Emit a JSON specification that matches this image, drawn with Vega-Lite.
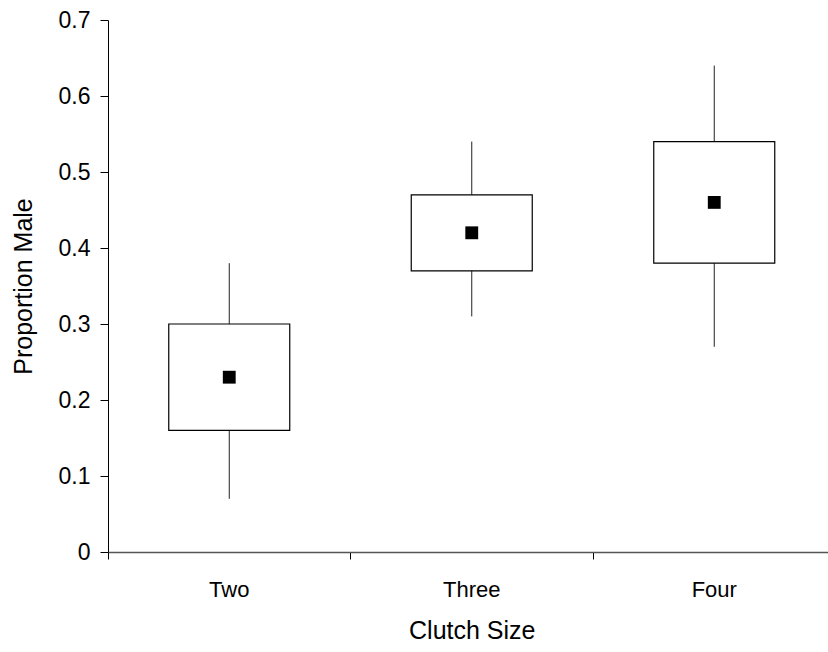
{
  "$schema": "https://vega.github.io/schema/vega-lite/v6.json",
  "autosize": {"type": "none"},
  "padding": {"left": 108, "top": 20, "right": 0, "bottom": 100},
  "width": 720,
  "height": 532,
  "background": "white",
  "config": {
    "view": {"stroke": null},
    "font": "Liberation Sans",
    "axis": {"labelFont": "Liberation Sans", "titleFont": "Liberation Sans", "labelColor": "#000", "titleColor": "#000", "titleFontWeight": "normal", "grid": false}
  },
  "data": {
    "values": [
      {"clutch": "Two", "lo": 0.07, "q1": 0.16, "mean": 0.23, "q3": 0.30, "hi": 0.38},
      {"clutch": "Three", "lo": 0.31, "q1": 0.37, "mean": 0.42, "q3": 0.47, "hi": 0.54},
      {"clutch": "Four", "lo": 0.27, "q1": 0.38, "mean": 0.46, "q3": 0.54, "hi": 0.64}
    ]
  },
  "encoding": {
    "x": {
      "field": "clutch", "type": "nominal", "sort": ["Two", "Three", "Four"],
      "scale": {"range": [0, 727.5], "paddingInner": 0, "paddingOuter": 0},
      "axis": {
        "title": "Clutch Size", "titleFontSize": 25, "titlePadding": 18,
        "labelFontSize": 22, "labelAngle": 0, "labelPadding": 20,
        "bandPosition": 0, "labelAlign": "center",
        "tickSize": 7, "tickColor": "#000", "domainColor": "#555", "domainWidth": 1.5
      }
    }
  },
  "layer": [
    {
      "mark": {"type": "rule", "color": "#222", "strokeWidth": 1},
      "encoding": {
        "y": {
          "field": "lo", "type": "quantitative",
          "scale": {"domain": [0, 0.7], "nice": false, "zero": true},
          "axis": {
            "title": "Proportion Male", "titleFontSize": 25, "titlePadding": 22,
            "labelFontSize": 23, "labelPadding": 10, "format": ".1~f",
            "values": [0, 0.1, 0.2, 0.3, 0.4, 0.5, 0.6, 0.7],
            "tickSize": 8, "tickColor": "#000", "domainColor": "#000", "domainWidth": 1
          }
        },
        "y2": {"field": "hi"}
      }
    },
    {
      "mark": {"type": "bar", "size": 121, "fill": "white", "stroke": "#000", "strokeWidth": 1.2},
      "encoding": {
        "y": {"field": "q1", "type": "quantitative"},
        "y2": {"field": "q3"}
      }
    },
    {
      "mark": {"type": "square", "size": 165, "color": "#000", "opacity": 1, "filled": true},
      "encoding": {
        "y": {"field": "mean", "type": "quantitative"}
      }
    }
  ]
}
